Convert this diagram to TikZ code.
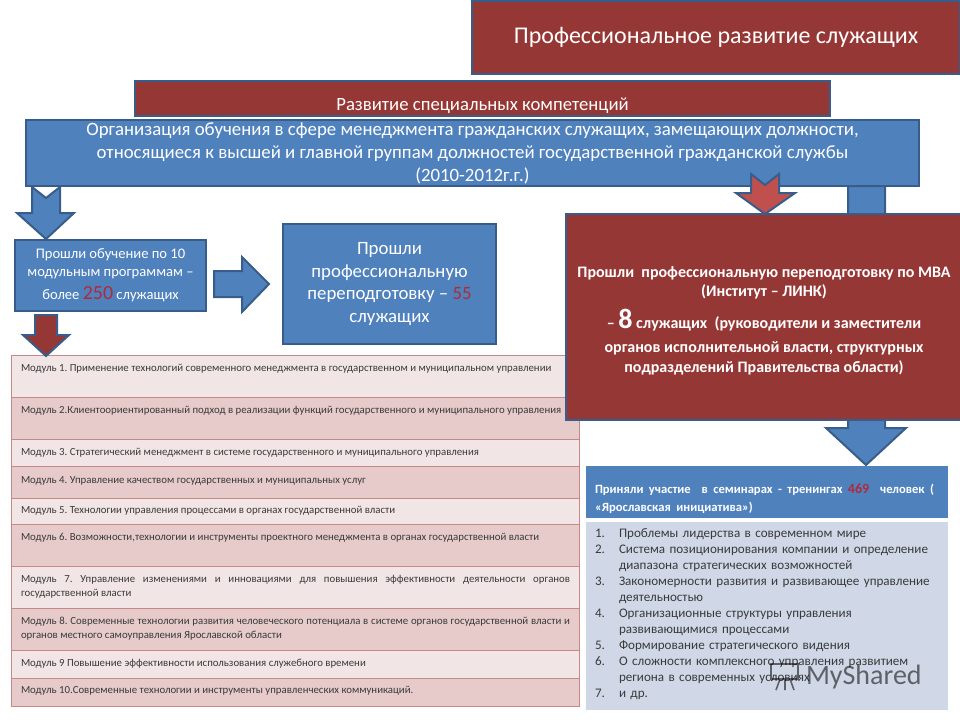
\documentclass[tikz,border=0pt]{standalone}
\usepackage{fontspec}
\usepackage{xcolor}
\setmainfont{Carlito}
\definecolor{borderblue}{HTML}{385D8A}
\definecolor{boxblue}{HTML}{4F81BD}
\definecolor{boxred}{HTML}{953735}
\definecolor{arrowred}{HTML}{C0504D}
\definecolor{numred}{HTML}{B02A3A}
\definecolor{rowlight}{HTML}{F1E6E5}
\definecolor{rowdark}{HTML}{E6CBCA}
\definecolor{rowline}{HTML}{C58A88}
\definecolor{listblue}{HTML}{D0D8E8}
\definecolor{inktext}{HTML}{3A3A3A}
\newcommand{\bignum}[2]{{\color{numred}\fontsize{#1}{#1}\selectfont #2}}
\begin{document}
\frenchspacing
\begin{tikzpicture}[
  x=1pt,y=-1pt,
  every node/.style={anchor=north west,inner sep=0pt,outer sep=0pt},
  redbox/.style={rectangle,draw=borderblue,line width=2pt,fill=boxred,text=white,align=center},
  bluebox/.style={rectangle,draw=borderblue,line width=2pt,fill=boxblue,text=white,align=center},
  rowa/.style={rectangle,draw=rowline,line width=0.8pt,fill=rowlight,minimum width=568pt},
  rowb/.style={rowa,fill=rowdark},
  rowtext/.style={text=inktext,font=\fontsize{10.8}{14.5}\selectfont,text width=549pt,align=justify,execute at begin node=\strut},
  listnum/.style={text=inktext,font=\fontsize{13.1}{16}\selectfont,execute at begin node=\strut},
  listtext/.style={listnum,text width=318pt,align=left},
  bluearrow/.style={draw=borderblue,line width=2pt,fill=boxblue,line join=miter},
  redarrow/.style={draw=borderblue,line width=2pt,fill=boxred,line join=miter}]
\useasboundingbox (0,0) rectangle (960,720);
% top headers
\node[redbox,minimum width=488pt,minimum height=73pt,font=\fontsize{24}{28}\selectfont] (title) at (472,1) {Профессиональное развитие служащих};
\node[redbox,minimum width=695pt,minimum height=35pt,font=\fontsize{18.7}{22}\selectfont] (bar) at (135,81) {\smash{\raisebox{-12pt}{Развитие специальных компетенций}}};
% arrows under the blue box
\draw[bluearrow] (32,187) -- (46,198) -- (60,187) -- (60,213) -- (74,213) -- (46,239) -- (17,213) -- (32,213) -- cycle;
\draw[bluearrow] (848,186) -- (885,186) -- (885,428) -- (906,428) -- (866,465) -- (826,428) -- (848,428) -- cycle;
\node[bluebox,minimum width=893pt,minimum height=66pt,font=\fontsize{18.8}{23}\selectfont] (org) at (26,120) {Организация обучения в сфере менеджмента гражданских служащих, замещающих должности,\\относящиеся к высшей и главной группам должностей государственной гражданской службы\\(2010-2012г.г.)};
\draw[bluearrow,fill=arrowred] (751,174) -- (765,185) -- (779,174) -- (779,193) -- (795,193) -- (765,214) -- (736,193) -- (751,193) -- cycle;
% second level
\node[bluebox,minimum width=191pt,minimum height=71pt,font=\fontsize{14.6}{18}\selectfont] (ten) at (15,240) {Прошли обучение по 10\\модульным программам –\\[5pt]более \bignum{20}{250} служащих};
\draw[bluearrow] (214,271) -- (242,271) -- (242,257) -- (269,284) -- (242,312) -- (242,297) -- (214,297) -- cycle;
\node[bluebox,minimum width=213pt,minimum height=120pt,font=\fontsize{18.8}{22.7}\selectfont] (retrain) at (283,224) {Прошли\\профессиональную\\переподготовку – \textcolor{numred}{55}\\служащих};
% table of modules
\node[rowa,minimum height=42pt] (m1) at (11,355) {};
\node[rowb,minimum height=42pt] (m2) at (11,397) {};
\node[rowa,minimum height=27pt] (m3) at (11,439) {};
\node[rowb,minimum height=32pt] (m4) at (11,466) {};
\node[rowa,minimum height=26pt] (m5) at (11,498) {};
\node[rowb,minimum height=42pt] (m6) at (11,524) {};
\node[rowa,minimum height=42pt] (m7) at (11,566) {};
\node[rowb,minimum height=42pt] (m8) at (11,608) {};
\node[rowa,minimum height=28pt] (m9) at (11,650) {};
\node[rowb,minimum height=28pt] (m10) at (11,678) {};
\draw[redarrow] (35,315) -- (57,315) -- (57,335) -- (69,335) -- (46,356) -- (23,335) -- (35,335) -- cycle;
\node[redbox,minimum width=396pt,minimum height=206pt,font=\bfseries\fontsize{16}{19}\selectfont] (mba) at (566,214) {\rule{0pt}{18pt}Прошли\ \ профессиональную переподготовку по МВА\\(Институт – ЛИНК)\\[9pt]– {\fontsize{28}{28}\selectfont 8} служащих\ \ (руководители и заместители\\[5pt]органов исполнительной власти, структурных\\[1pt]подразделений Правительства области)};
\node[rowtext] (t1) at (21,361) {Модуль 1. Применение технологий современного менеджмента в государственном и муниципальном управлении};
\node[rowtext] (t2) at (21,403) {Модуль 2.Клиентоориентированный подход в реализации функций государственного и муниципального управления};
\node[rowtext] (t3) at (21,445) {Модуль 3. Стратегический менеджмент в системе государственного и муниципального управления};
\node[rowtext] (t4) at (21,473) {Модуль 4. Управление качеством государственных и муниципальных услуг};
\node[rowtext] (t5) at (21,503) {Модуль 5. Технологии управления процессами в органах государственной власти};
\node[rowtext] (t6) at (21,530) {Модуль 6. Возможности,технологии и инструменты проектного менеджмента в органах государственной власти};
\node[rowtext] (t7) at (21,572) {Модуль 7. Управление изменениями и инновациями для повышения эффективности деятельности органов государственной власти};
\node[rowtext] (t8) at (21,614) {Модуль 8. Современные технологии развития человеческого потенциала в системе органов государственной власти и органов местного самоуправления Ярославской области};
\node[rowtext] (t9) at (21,656) {Модуль 9 Повышение эффективности использования служебного времени};
\node[rowtext] (t10) at (21,683) {Модуль 10.Современные технологии и инструменты управленческих коммуникаций.};
% seminars
\node[rectangle,fill=boxblue,minimum width=362pt,minimum height=52pt] (semhead) at (586,466) {};
\node[text=white,text width=339pt,align=justify,font=\bfseries\fontsize{12.6}{18}\selectfont] (semtext) at (595,484) {Приняли участие\ \ в семинарах - тренингах \bignum{14}{469}\ \ человек (\linebreak «Ярославская\ \ инициатива»)};
\node[rectangle,fill=listblue,minimum width=362pt,minimum height=188pt] (semlist) at (586,522) {};
\node[listnum] (n1) at (595,526) {1.};
\node[listtext] (l1) at (619,526) {Проблемы лидерства в современном мире};
\node[listnum] (n2) at (595,542) {2.};
\node[listtext] (l2) at (619,542) {Система позиционирования компании и определение диапазона стратегических возможностей};
\node[listnum] (n3) at (595,574) {3.};
\node[listtext] (l3) at (619,574) {Закономерности развития и развивающее управление деятельностью};
\node[listnum] (n4) at (595,606) {4.};
\node[listtext] (l4) at (619,606) {Организационные структуры управления\\развивающимися процессами};
\node[listnum] (n5) at (595,638) {5.};
\node[listtext] (l5) at (619,638) {Формирование стратегического видения};
\node[listnum] (n6) at (595,654) {6.};
\node[listtext] (l6) at (619,654) {О сложности комплексного управления развитием\\региона в современных условиях};
\node[listnum] (n7) at (595,686) {7.};
\node[listtext] (l7) at (619,686) {и др.};
% watermark
\node[text=black,opacity=0.55,font=\fontsize{28}{30}\selectfont] (mark) at (806,665) {MyShared};
\draw[black,opacity=0.55,line width=1.6pt] (771,664) rectangle (798,679) (780,679) -- (776,690) (790,679) -- (794,690) (785,679) -- (785,690);
\end{tikzpicture}
\end{document}
